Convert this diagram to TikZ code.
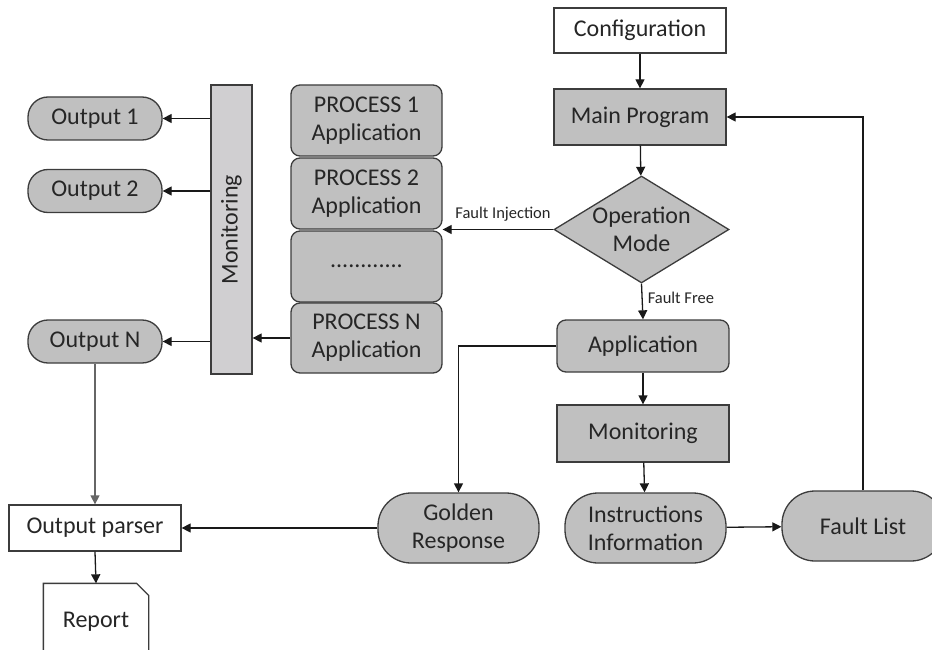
\documentclass[tikz,border=0pt]{standalone}
\usepackage{fontspec}
\setmainfont{Carlito}
\usetikzlibrary{arrows.meta,shapes.geometric,calc}
\definecolor{boxgray}{HTML}{C0C0C0}
\definecolor{bargray}{HTML}{D0CFD1}
\definecolor{edge}{HTML}{3C3C3C}
\newcommand{\mainsize}{\fontsize{24}{28}\selectfont}
\tikzset{
  base/.style={draw=edge, line width=1.3pt, inner sep=0pt, align=center,
    font=\mainsize, text=black!85},
  plainbox/.style={base, fill=white, rectangle},
  graybox/.style={base, fill=boxgray, rectangle},
  roundbox/.style={base, fill=boxgray, rectangle, rounded corners=9pt},
  pill/.style={base, fill=boxgray, rectangle, rounded corners=33pt},
  smallpill/.style={base, fill=boxgray, rectangle, rounded corners=20pt},
  link/.style={line width=1.3pt, draw=black!90, -{Triangle[length=9pt,width=9pt]}},
  tag/.style={font=\fontsize{16.5}{18}\selectfont, text=black!85, inner sep=0pt},
  label text/.style={font=\mainsize, text=black!85, align=center}
}
\begin{document}
\begin{tikzpicture}[x=1pt,y=-1pt]
\useasboundingbox (0,0) rectangle (932,650);

% main flow on the right
\node[plainbox, minimum width=172pt, minimum height=45pt] (conf) at (640,30.5) {Configuration};
\node[graybox, minimum width=172pt, minimum height=56pt] (main) at (640,117) {Main Program};
\node[base, fill=boxgray, diamond, minimum width=175pt, minimum height=107pt] (mode) at (641.5,229.5) {};
\node[label text] (modetext) at (mode.center) {Operation\\Mode};
\node[roundbox, minimum width=172pt, minimum height=52pt] (app) at (643,346) {Application};
\node[graybox, minimum width=172pt, minimum height=57pt] (mon) at (643,433.5) {Monitoring};
\node[pill, minimum width=161pt, minimum height=70pt] (instr) at (645.5,528) {Instructions\\Information};
\node[pill, minimum width=162pt, minimum height=70pt] (fault) at (863,526) {Fault List};
\node[pill, minimum width=161pt, minimum height=70pt] (golden) at (458.5,528) {Golden\\Response};

% parser and report
\node[plainbox, minimum width=172pt, minimum height=46pt] (parser) at (95,528) {Output parser};
\node[base, draw=none, minimum width=104pt, minimum height=90pt] (report) at (96,629) {};
\draw[line width=1.3pt, draw=edge, fill=white]
  (report.south west) -- (report.north west) -- ([xshift=-12pt]report.north east)
  -- ([yshift=-12pt]report.north east) -- (report.south east);
\node[label text] (reporttext) at (96,622) {Report};

% parallel processes
\node[roundbox, minimum width=151pt, minimum height=71pt] (p1) at (366.5,120.5) {PROCESS 1\\Application};
\node[roundbox, minimum width=151pt, minimum height=71pt] (p2) at (366.5,193.5) {PROCESS 2\\Application};
\node[roundbox, minimum width=151pt, minimum height=71pt] (pdots) at (366.5,266.5) {............};
\node[roundbox, minimum width=151pt, minimum height=70pt] (pN) at (366.5,338) {PROCESS N\\Application};

% monitoring bar and outputs
\node[base, fill=bargray, rectangle, minimum width=41pt, minimum height=289pt] (bar) at (231.5,229.5) {};
\node[label text, rotate=90] (bartext) at (bar.center) {Monitoring};
\node[smallpill, minimum width=134pt, minimum height=43pt] (o1) at (95,118.5) {Output 1};
\node[smallpill, minimum width=134pt, minimum height=43pt] (o2) at (95,191) {Output 2};
\node[smallpill, minimum width=134pt, minimum height=43pt] (oN) at (95,341.5) {Output N};

% connectors
\draw[link] (conf) -- (main);
\draw[link] (main) -- (mode);
\draw[link] (mode.west) -- (mode.west -| p2.east)
  node[tag, pos=0.5, above=8pt, xshift=5pt] {Fault Injection};
\draw[link] (mode.south) -- (app.north)
  node[tag, pos=0.4, right=5pt] {Fault Free};
\draw[link] (app) -- (mon);
\draw[link] (mon) -- (instr);
\draw[link] (instr) -- (fault);
\draw[link] (fault.north) |- (main.east);
\draw[link] (app.west) -| (golden.north);
\draw[link] (golden) -- (parser);
\draw[link, draw=black!60] (oN.south) -- (parser.north);
\draw[link] (parser.south) -- (report.north);
\draw[link] (pN.west) -- (pN.west -| bar.east);
\draw[link] (bar.west |- o1.east) -- (o1.east);
\draw[link] (bar.west |- o2.east) -- (o2.east);
\draw[link] (bar.west |- oN.east) -- (oN.east);
\end{tikzpicture}
\end{document}
